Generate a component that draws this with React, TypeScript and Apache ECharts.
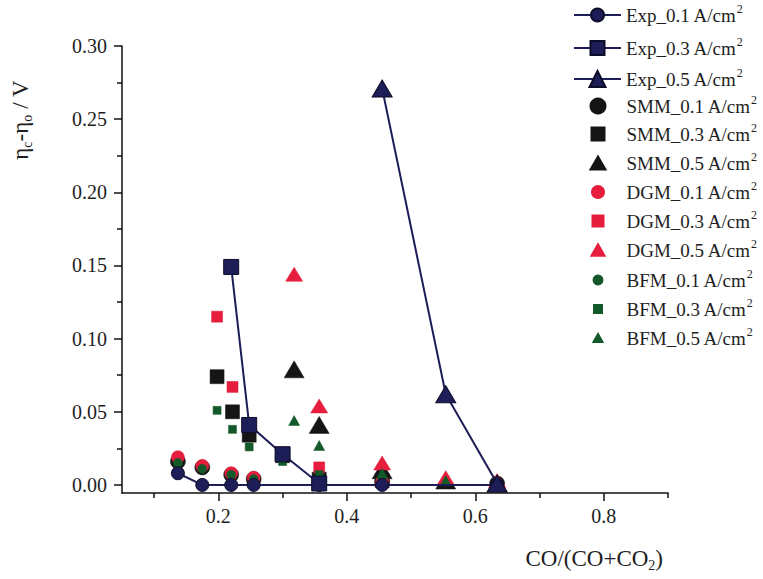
import React, { useEffect, useRef } from 'react';
import * as echarts from 'echarts';

// ---- data (x = CO/(CO+CO2), y = overpotential difference in V) ----
const exp01 = [[0.137, 0.008], [0.175, 0.0], [0.22, 0.0], [0.255, 0.0], [0.357, 0.0], [0.455, 0.0], [0.634, 0.0]];
const exp03 = [[0.22, 0.149], [0.248, 0.041], [0.30, 0.021], [0.357, 0.001]];
const exp05 = [[0.455, 0.271], [0.554, 0.062], [0.634, 0.001]];

const smm01 = [[0.137, 0.016], [0.175, 0.012], [0.22, 0.007], [0.255, 0.004], [0.357, 0.002], [0.455, 0.002], [0.634, 0.001]];
const smm03 = [[0.198, 0.074], [0.222, 0.05], [0.248, 0.034], [0.30, 0.02], [0.357, 0.004], [0.455, 0.003]];
const smm05 = [[0.318, 0.079], [0.357, 0.041], [0.455, 0.01], [0.554, 0.003], [0.634, 0.001]];

const dgm01 = [[0.137, 0.019], [0.175, 0.013], [0.22, 0.008], [0.255, 0.005], [0.357, 0.002], [0.455, 0.002]];
const dgm03 = [[0.198, 0.115], [0.222, 0.067], [0.248, 0.042], [0.30, 0.022], [0.357, 0.012]];
const dgm05 = [[0.318, 0.144], [0.357, 0.054], [0.455, 0.015], [0.554, 0.005], [0.634, 0.003]];

const bfm01 = [[0.137, 0.015], [0.175, 0.011], [0.22, 0.007], [0.255, 0.004], [0.357, 0.002], [0.455, 0.002]];
const bfm03 = [[0.198, 0.051], [0.222, 0.038], [0.248, 0.026], [0.30, 0.016], [0.357, 0.007], [0.455, 0.004]];
const bfm05 = [[0.318, 0.044], [0.357, 0.027], [0.455, 0.008], [0.554, 0.003], [0.634, 0.002]];

const yMajorTicks = [0, 0.05, 0.1, 0.15, 0.2, 0.25, 0.3];
const yMinorTicks = [0.025, 0.075, 0.125, 0.175, 0.225, 0.275];
const xMajorTicks = [0.2, 0.4, 0.6, 0.8];
const xMinorTicks = [0.1, 0.3, 0.5, 0.7, 0.9];

// ---- styling ----
const FONT = '"Liberation Serif", "Times New Roman", serif';
const NAVY = '#1d1d58';
const BLACK = '#151515';
const RED = '#e61d3c';
const GREEN = '#13592a';
const TEXT = '#1e1e1e';

type Def = {
  name: string;
  data: number[][];
  kind: 'line' | 'scatter';
  symbol: string;
  size: number | number[];
  color: string;
  legendSize: number;
};

const defs: Def[] = [
  { name: 'Exp_0.1', data: exp01, kind: 'line', symbol: 'circle', size: 13, color: NAVY, legendSize: 13 },
  { name: 'Exp_0.3', data: exp03, kind: 'line', symbol: 'rect', size: 15, color: NAVY, legendSize: 14 },
  { name: 'Exp_0.5', data: exp05, kind: 'line', symbol: 'triangle', size: [20, 17], color: NAVY, legendSize: 16 },
  { name: 'SMM_0.1', data: smm01, kind: 'scatter', symbol: 'circle', size: 15, color: BLACK, legendSize: 15 },
  { name: 'SMM_0.3', data: smm03, kind: 'scatter', symbol: 'rect', size: 14, color: BLACK, legendSize: 13 },
  { name: 'SMM_0.5', data: smm05, kind: 'scatter', symbol: 'triangle', size: [20, 17], color: BLACK, legendSize: 15 },
  { name: 'DGM_0.1', data: dgm01, kind: 'scatter', symbol: 'circle', size: 13, color: RED, legendSize: 12 },
  { name: 'DGM_0.3', data: dgm03, kind: 'scatter', symbol: 'rect', size: 11, color: RED, legendSize: 11 },
  { name: 'DGM_0.5', data: dgm05, kind: 'scatter', symbol: 'triangle', size: [17, 14], color: RED, legendSize: 13 },
  { name: 'BFM_0.1', data: bfm01, kind: 'scatter', symbol: 'circle', size: 9, color: GREEN, legendSize: 9 },
  { name: 'BFM_0.3', data: bfm03, kind: 'scatter', symbol: 'rect', size: 8, color: GREEN, legendSize: 8 },
  { name: 'BFM_0.5', data: bfm05, kind: 'scatter', symbol: 'triangle', size: [11, 10], color: GREEN, legendSize: 9 },
];

const legendRowY = [15, 48, 79, 106, 134, 163, 192, 221, 250, 280, 309, 338];

const SQUARE_ICON = 'path://M0,0H10V10H0Z';
const TRI_ICON = 'path://M5,0L10,8.66L0,8.66Z';

export default function App() {
  const ref = useRef<HTMLDivElement>(null);

  useEffect(() => {
    document.body.style.margin = '0';
    const chart = echarts.init(ref.current!, null, { renderer: 'svg' });

    const legendRich = {
      t: { fontFamily: FONT, fontSize: 19, color: TEXT, lineHeight: 24 },
      s: { fontFamily: FONT, fontSize: 12, color: TEXT, verticalAlign: 'top', lineHeight: 14 },
    };

    const legends = defs.map((d, i) => {
      const isLine = d.kind === 'line';
      let h: number;
      let w: number;
      let icon: string | undefined;
      if (isLine) {
        h = d.legendSize / 0.8;
        w = 47;
      } else if (d.symbol === 'circle') {
        h = d.legendSize;
        w = h;
        icon = 'circle';
      } else if (d.symbol === 'rect') {
        h = d.legendSize;
        w = h;
        icon = SQUARE_ICON;
      } else {
        h = d.legendSize * 0.866;
        w = d.legendSize;
        icon = TRI_ICON;
      }
      const leg: any = {
        data: [d.name],
        orient: 'vertical',
        padding: 0,
        left: isLine ? 573 : 597 - w / 2,
        top: legendRowY[i] - 12,
        itemWidth: 47,
        itemHeight: h,
        itemGap: 0,
        symbolKeepAspect: true,
        selectedMode: false,
        formatter: (n: string) => `{t|${n} A/cm}{s|2}`,
        textStyle: { rich: legendRich },
      };
      if (icon) leg.icon = icon;
      return leg;
    });

    const series = defs.map((d) => {
      const base: any = {
        name: d.name,
        type: d.kind,
        data: d.data,
        symbol: d.symbol,
        symbolSize: d.size,
        itemStyle: { color: d.color, borderColor: d.kind === 'line' ? '#0d0d2a' : d.color, borderWidth: d.kind === 'line' ? 1 : 0.5, opacity: 1 },
        xAxisIndex: 0,
        yAxisIndex: 0,
        emphasis: { disabled: true },
      };
      if (d.kind === 'line') {
        base.lineStyle = { color: d.color, width: 2 };
        base.showSymbol = true;
        base.showAllSymbol = true;
      }
      return base;
    });

    const axisLineStyle = { color: '#111', width: 1.5 };

    chart.setOption({
      animation: false,
      backgroundColor: '#ffffff',
      grid: { left: 122, right: 95, top: 46, bottom: 86, containLabel: false, outerBoundsMode: 'none' },
      legend: legends,
      xAxis: [
        {
          type: 'value',
          min: 0.05,
          max: 0.9,
          position: 'bottom',
          splitLine: { show: false },
          axisLine: { show: true, onZero: false, lineStyle: axisLineStyle },
          axisTick: { show: true, inside: false, length: 8, lineStyle: axisLineStyle, customValues: xMajorTicks },
          axisLabel: {
            show: true,
            customValues: xMajorTicks,
            margin: 13,
            fontFamily: FONT,
            fontSize: 20,
            color: TEXT,
            formatter: (v: number) => v.toFixed(1),
          },
        },
        {
          type: 'value',
          min: 0.05,
          max: 0.9,
          position: 'bottom',
          splitLine: { show: false },
          axisLine: { show: false, onZero: false },
          axisTick: { show: true, inside: false, length: 5, lineStyle: axisLineStyle, customValues: xMinorTicks },
          axisLabel: { show: false },
        },
      ],
      yAxis: [
        {
          type: 'value',
          min: -0.0055,
          max: 0.3,
          position: 'left',
          splitLine: { show: false },
          axisLine: { show: true, onZero: false, lineStyle: axisLineStyle },
          axisTick: { show: true, inside: false, length: 8, lineStyle: axisLineStyle, customValues: yMajorTicks },
          axisLabel: {
            show: true,
            customValues: yMajorTicks,
            margin: 15,
            fontFamily: FONT,
            fontSize: 20,
            color: TEXT,
            formatter: (v: number) => v.toFixed(2),
          },
        },
        {
          type: 'value',
          min: -0.0055,
          max: 0.3,
          position: 'left',
          splitLine: { show: false },
          axisLine: { show: false, onZero: false },
          axisTick: { show: true, inside: false, length: 5, lineStyle: axisLineStyle, customValues: yMinorTicks },
          axisLabel: { show: false },
        },
      ],
      graphic: [
        {
          type: 'text',
          x: 20,
          y: 120,
          rotation: Math.PI / 2,
          style: {
            text: '{a|η}{b|c}{a|-η}{b|o}{a| / V}',
            align: 'center',
            verticalAlign: 'middle',
            fill: TEXT,
            rich: {
              a: { fontFamily: FONT, fontSize: 23, fill: TEXT, lineHeight: 28 },
              b: { fontFamily: FONT, fontSize: 14, fill: TEXT, verticalAlign: 'bottom', lineHeight: 14 },
            },
          },
        },
        {
          type: 'text',
          x: 663,
          y: 558,
          style: {
            text: '{a|CO/(CO+CO}{b|2}{a|)}',
            align: 'right',
            verticalAlign: 'middle',
            fill: TEXT,
            rich: {
              a: { fontFamily: FONT, fontSize: 23, fill: TEXT, lineHeight: 28 },
              b: { fontFamily: FONT, fontSize: 14, fill: TEXT, verticalAlign: 'bottom', lineHeight: 14 },
            },
          },
        },
      ],
      series,
    });

    return () => chart.dispose();
  }, []);

  return <div ref={ref} style={{ width: 763, height: 579 }} />;
}
